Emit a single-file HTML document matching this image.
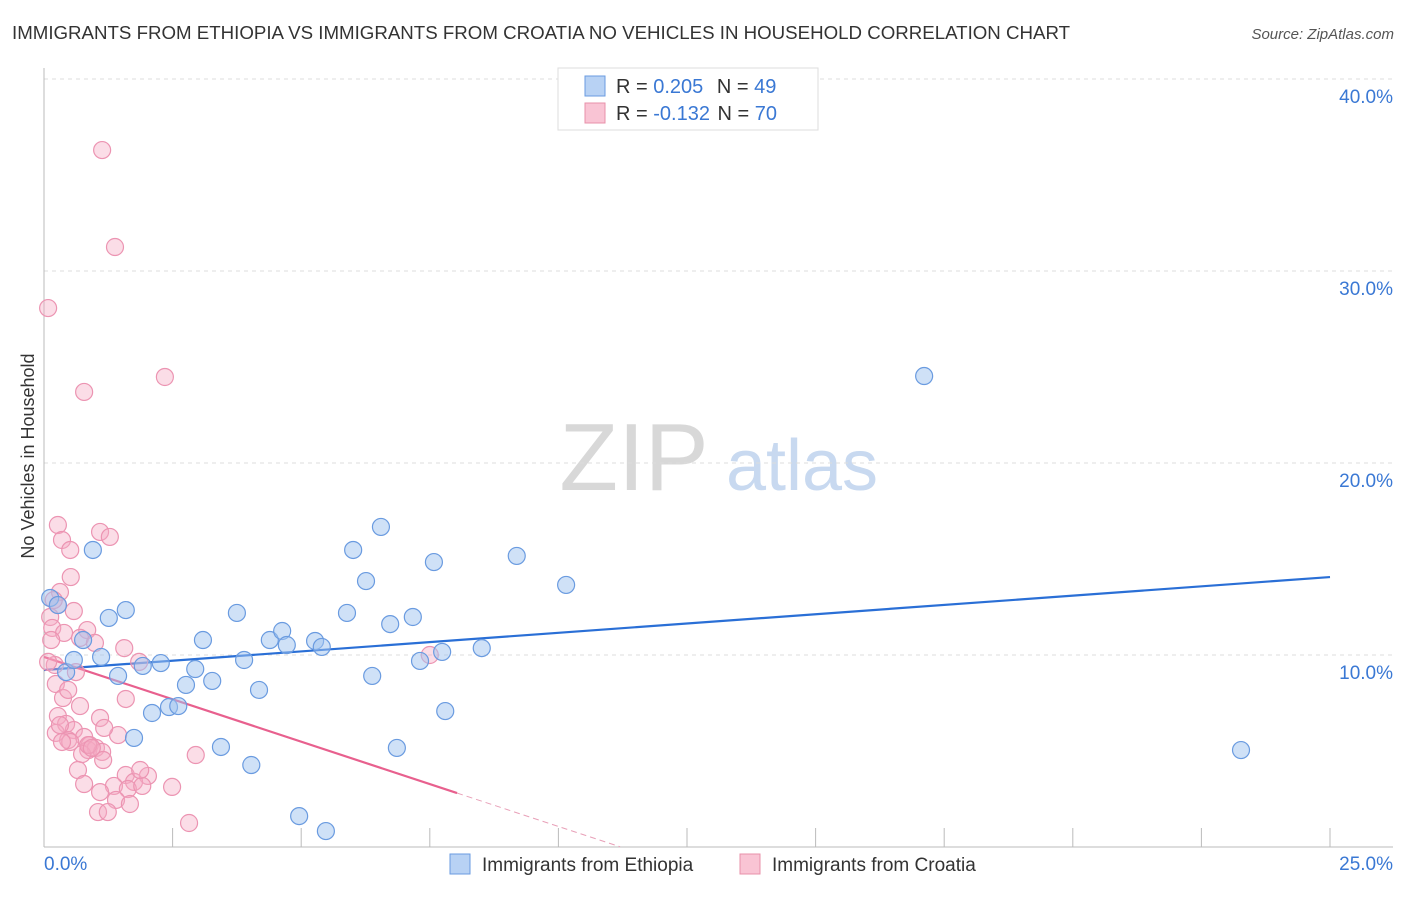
<!DOCTYPE html>
<html><head><meta charset="utf-8"><style>
body{margin:0;background:#fff;font-family:"Liberation Sans",sans-serif;}
svg text{font-family:"Liberation Sans",sans-serif;}
</style></head><body>
<svg id="chart" width="1406" height="892" viewBox="0 0 1406 892">
<text x="12" y="39" font-size="18.7" fill="#333">IMMIGRANTS FROM ETHIOPIA VS IMMIGRANTS FROM CROATIA NO VEHICLES IN HOUSEHOLD CORRELATION CHART</text>
<text x="1394" y="39" font-size="15" fill="#555" text-anchor="end" font-style="italic">Source: ZipAtlas.com</text>
<text transform="translate(34,456) rotate(-90)" font-size="18" fill="#333" text-anchor="middle">No Vehicles in Household</text>
<g>
<text x="634" y="490" font-size="96" fill="#d8d8d8" text-anchor="middle" font-family="Liberation Serif, serif">ZIP</text>
<text x="802" y="490" font-size="72" fill="#c8d9f0" text-anchor="middle">atlas</text>
</g>
<g id="grid"></g><g id="axes"></g><g id="trend"></g><g id="pts"></g>
<g>
<rect x="558" y="68" width="260" height="62" fill="#fff" stroke="#ddd"/>
<rect x="585" y="76" width="20" height="20" fill="#b8d2f4" stroke="#6a9be0"/>
<rect x="585" y="103" width="20" height="20" fill="#f9c4d4" stroke="#e890aa"/>
<text x="616" y="93" font-size="20" fill="#333">R = <tspan fill="#3a78d4">0.205</tspan>   <tspan dx="8">N = </tspan><tspan fill="#3a78d4">49</tspan></text>
<text x="616" y="120" font-size="20" fill="#333">R = <tspan fill="#3a78d4">-0.132</tspan>   <tspan dx="2">N = </tspan><tspan fill="#3a78d4">70</tspan></text>
</g>
<g>
<rect x="450" y="854" width="20" height="20" fill="#b8d2f4" stroke="#6a9be0"/>
<text x="482" y="871" font-size="19" fill="#333">Immigrants from Ethiopia</text>
<rect x="740" y="854" width="20" height="20" fill="#f9c4d4" stroke="#e890aa"/>
<text x="772" y="871" font-size="19" fill="#333">Immigrants from Croatia</text>
</g>
</svg>
<script>
const yTicks=[10,20,30,40];
const yTickLabels=["10.0%","20.0%","30.0%","40.0%"];
const xTickLabels=["0.0%","25.0%"];
const ethX=[0.12,0.27,0.43,0.58,0.76,0.95,1.11,1.26,1.44,1.59,1.75,1.92,2.10,2.27,2.43,2.61,2.76,2.94,3.09,3.27,3.44,3.75,3.89,4.03,4.18,4.39,4.63,4.72,4.96,5.27,5.40,5.48,5.89,6.01,6.26,6.38,6.55,6.73,6.86,7.17,7.31,7.58,7.74,7.80,8.51,9.19,10.15,17.11,23.27];
const ethY=[12.97,12.60,9.11,9.74,10.78,15.47,9.90,11.93,8.91,12.34,5.68,9.43,6.98,9.58,7.29,7.34,8.44,9.27,10.78,8.65,5.21,12.19,9.74,4.27,8.18,10.78,11.25,10.52,1.61,10.73,10.42,0.83,12.19,15.47,13.85,8.91,16.67,11.61,5.16,11.98,9.69,14.84,10.16,7.08,10.36,15.16,13.65,24.53,5.05];
const croX=[0.08,1.13,1.38,0.78,2.35,0.27,0.35,0.51,1.09,1.28,0.52,0.31,0.27,0.12,0.16,0.58,0.39,0.84,0.70,0.99,1.56,0.14,0.21,0.08,0.62,1.85,0.23,0.37,0.70,1.59,1.09,0.27,0.43,0.58,0.23,0.47,0.78,0.89,0.51,1.44,0.86,1.01,1.13,0.74,1.15,2.95,0.66,0.78,1.59,2.02,1.75,1.36,1.09,1.63,1.91,2.49,1.40,1.67,1.05,1.24,2.82,0.19,0.31,1.17,7.50,0.86,0.47,1.87,0.35,0.93];
const croY=[28.07,36.30,31.25,23.70,24.48,16.77,15.99,15.47,16.41,16.15,14.06,13.28,12.60,11.98,11.41,12.29,11.15,11.30,10.89,10.63,10.36,10.78,9.48,9.64,9.11,9.64,8.49,7.76,7.34,7.71,6.72,6.82,6.41,6.09,5.94,5.57,5.73,5.31,5.47,5.83,5.05,5.16,4.95,4.84,4.53,4.79,4.01,3.28,3.75,3.70,3.39,3.18,2.86,3.02,3.18,3.13,2.45,2.24,1.82,1.82,1.25,12.86,6.35,6.20,10.00,5.31,8.18,4.01,5.47,5.16];
const ethTrend=[9.22,14.06];
const croTrend=[9.9,-0.883];
const X0=44,X1=1330,Y0=847,PPY=19.2;
const sx=v=>X0+(v/25)*(X1-X0);
const sy=v=>Y0-v*PPY;
const NS="http://www.w3.org/2000/svg";
function mk(tag,attrs,parent){const e=document.createElementNS(NS,tag);for(const k in attrs)e.setAttribute(k,attrs[k]);document.getElementById(parent).appendChild(e);return e;}
yTicks.forEach((t,i)=>{
 const g=mk('line',{x1:X0,x2:1393,y1:sy(t),y2:sy(t),stroke:'#ddd','stroke-dasharray':'4,4'},'grid');
 
 
 const l=mk('text',{x:1393,y:sy(t)+24,'font-size':19,fill:'#3a78d4','text-anchor':'end'},'grid');
 l.textContent=yTickLabels[i];
 
 
});
const ya=mk('line',{x1:X0,x2:X0,y1:68,y2:Y0,stroke:'#bbb'},'axes');


const xa=mk('line',{x1:X0,x2:1393,y1:Y0,y2:Y0,stroke:'#bbb'},'axes');


for(let i=0;i<=10;i++){
 const t=mk('line',{x1:sx(i*2.5),x2:sx(i*2.5),y1:828,y2:Y0,stroke:'#bbb'},'axes');
 
 
}
[[0,44,'start'],[25,1393,'end']].forEach((d,i)=>{
 const l=mk('text',{x:d[1],y:870,'font-size':19,fill:'#3a78d4','text-anchor':d[2]},'axes');
 l.textContent=xTickLabels[i];
 
 
});
const bl=mk('line',{x1:sx(0),y1:sy(ethTrend[0]),x2:sx(25),y2:sy(ethTrend[1]),stroke:'#2a6fd6','stroke-width':2.2},'trend');


const cy=x=>croTrend[0]+croTrend[1]*x;
const pl=mk('line',{x1:sx(0),y1:sy(cy(0)),x2:sx(8.03),y2:sy(cy(8.03)),stroke:'#e8608e','stroke-width':2.2},'trend');


const pd=mk('line',{x1:sx(8.03),y1:sy(cy(8.03)),x2:sx(11.2),y2:sy(cy(11.2)),stroke:'#e8a0b8','stroke-width':1,'stroke-dasharray':'6,4'},'trend');


croX.forEach((x,i)=>{
 const c=mk('circle',{cx:sx(x),cy:sy(croY[i]),r:8.5,fill:'rgba(246,170,196,0.4)',stroke:'#ec94b2','stroke-width':1.2},'pts');
 
 
});
ethX.forEach((x,i)=>{
 const c=mk('circle',{cx:sx(x),cy:sy(ethY[i]),r:8.5,fill:'rgba(160,196,240,0.5)',stroke:'#6a9be0','stroke-width':1.2},'pts');
 
 
});
</script>
</body></html>
